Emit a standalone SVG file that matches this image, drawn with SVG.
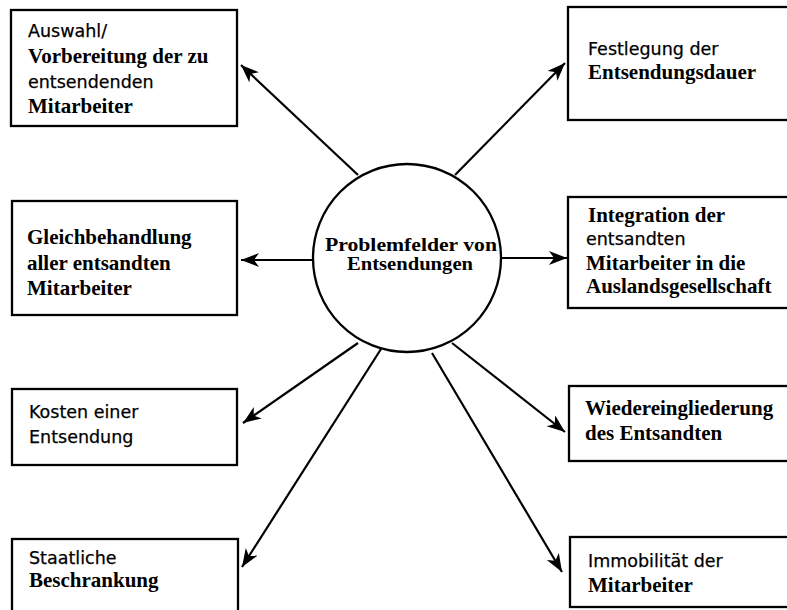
<svg xmlns="http://www.w3.org/2000/svg" width="787" height="610" viewBox="0 0 787 610">
<defs>
<style>
.box{fill:#fff;stroke:#000;stroke-width:2.3}
.b{font-family:"Liberation Serif","Times New Roman",serif;font-weight:bold;font-size:21px;fill:#000}
.s{font-family:"DejaVu Sans","Liberation Sans",sans-serif;font-size:17.5px;fill:#000;stroke:#000;stroke-width:0.25}
.c{font-family:"Liberation Serif","Times New Roman",serif;font-weight:bold;font-size:18.5px;fill:#000}
.ln{stroke:#000;stroke-width:2.2;fill:none}
</style>
<marker id="ah" markerUnits="userSpaceOnUse" markerWidth="20" markerHeight="16" refX="18" refY="7" orient="auto">
<path d="M0,0 L18,7 L0,14 L5,7 z" fill="#000"/>
</marker>
</defs>
<rect width="787" height="610" fill="#fff"/>
<g id="connectors">
<line class="ln" x1="358" y1="175" x2="241" y2="65" marker-end="url(#ah)"/>
<line class="ln" x1="455" y1="175" x2="565" y2="63" marker-end="url(#ah)"/>
<line class="ln" x1="313" y1="260" x2="241" y2="260" marker-end="url(#ah)"/>
<line class="ln" x1="500" y1="258" x2="567" y2="258" marker-end="url(#ah)" stroke-width="2.8"/>
<line class="ln" x1="358" y1="343" x2="243" y2="423" marker-end="url(#ah)"/>
<line class="ln" x1="381" y1="349" x2="242" y2="567" marker-end="url(#ah)"/>
<line class="ln" x1="452" y1="343" x2="565" y2="432" marker-end="url(#ah)"/>
<line class="ln" x1="432" y1="353" x2="562" y2="572" marker-end="url(#ah)"/>
</g>
<g id="center">
<circle cx="407" cy="258" r="94" fill="#fff" stroke="#000" stroke-width="2.3"/>
<text class="c" x="411" y="251" text-anchor="middle" textLength="172" lengthAdjust="spacingAndGlyphs">Problemfelder von</text>
<text class="c" x="410" y="270" text-anchor="middle" textLength="126" lengthAdjust="spacingAndGlyphs">Entsendungen</text>
</g>
<g id="auswahl">
<rect class="box" x="11" y="10" width="226" height="116"/>
<text class="s" x="28" y="37">Auswahl/</text>
<text class="b" x="28" y="63">Vorbereitung der zu</text>
<text class="s" x="28" y="88">entsendenden</text>
<text class="b" x="28" y="113">Mitarbeiter</text>
</g>
<g id="festlegung">
<rect class="box" x="568" y="7" width="222" height="113"/>
<text class="s" x="588" y="55">Festlegung der</text>
<text class="b" x="588" y="79">Entsendungsdauer</text>
</g>
<g id="gleichbehandlung">
<rect class="box" x="12" y="201" width="225" height="114"/>
<text class="b" x="27" y="244">Gleichbehandlung</text>
<text class="b" x="27" y="270">aller entsandten</text>
<text class="b" x="27" y="295">Mitarbeiter</text>
</g>
<g id="integration">
<rect class="box" x="568" y="197" width="222" height="111"/>
<text class="b" x="588" y="222">Integration der</text>
<text class="s" x="586" y="245">entsandten</text>
<text class="b" x="586" y="270">Mitarbeiter in die</text>
<text class="b" x="586" y="293">Auslandsgesellschaft</text>
</g>
<g id="kosten">
<rect class="box" x="12" y="389" width="225" height="76"/>
<text class="s" x="29" y="418">Kosten einer</text>
<text class="s" x="29" y="443">Entsendung</text>
</g>
<g id="wiedereingliederung">
<rect class="box" x="569" y="386" width="221" height="75"/>
<text class="b" x="585" y="415">Wiedereingliederung</text>
<text class="b" x="585" y="440">des Entsandten</text>
</g>
<g id="staatliche">
<rect class="box" x="12" y="539" width="226" height="80"/>
<text class="s" x="29" y="564">Staatliche</text>
<text class="b" x="29" y="587">Beschrankung</text>
</g>
<g id="immobilitaet">
<rect class="box" x="570" y="537" width="220" height="70"/>
<text class="s" x="588" y="567">Immobilität der</text>
<text class="b" x="588" y="592">Mitarbeiter</text>
</g>
</svg>
